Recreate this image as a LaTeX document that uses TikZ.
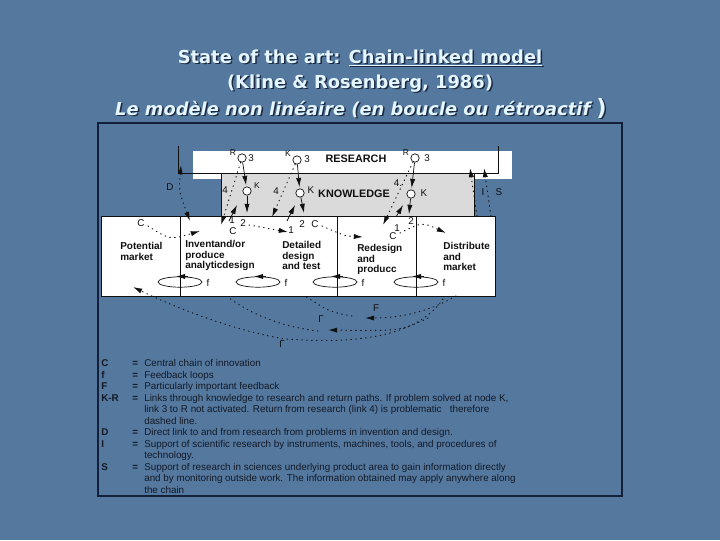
\documentclass[tikz,border=0pt]{standalone}
\usepackage{fontspec}
\setmainfont{Liberation Sans}
\newfontfamily\headfont{DejaVu Sans}
\usetikzlibrary{arrows.meta,shapes.geometric}
\definecolor{slide}{HTML}{55789F}
\definecolor{chalk}{HTML}{E4F6FF}
\definecolor{shade}{HTML}{1C2940}
\definecolor{rim}{HTML}{14203A}
\definecolor{knowfill}{HTML}{DADADA}
\definecolor{ink}{HTML}{101010}
\definecolor{legendink}{HTML}{121A26}

\begin{document}
\begin{tikzpicture}[x=.025cm,y=-.025cm,
 head/.style={font=\headfont\bfseries\fontsize{12.7}{14}\selectfont,text=chalk,inner sep=0pt,anchor=base},
 headshade/.style={head,text=shade},
 stage/.style={font=\bfseries\fontsize{7.1}{7.5}\selectfont,align=left,anchor=north west,inner sep=0pt,text=ink},
 band/.style={font=\bfseries\fontsize{7.7}{8}\selectfont,inner sep=0pt,text=ink},
 tag/.style={font=\fontsize{7}{7}\selectfont,inner sep=0pt,text=ink},
 tiny/.style={font=\fontsize{6}{6}\selectfont,inner sep=0pt,text=ink},
 hub/.style={circle,draw=ink,fill=white,line width=.5pt,minimum size=2.1mm,inner sep=0pt},
 link/.style={-{Latex[length=2.3mm,width=1.3mm]},ink,line width=.5pt},
 dots/.style={ink,line width=.7pt,dash pattern=on .5pt off 3pt,line cap=round},
 dotlink/.style={dots,-{Latex[length=2.3mm,width=1.3mm]}},
 ring/.style={ellipse,draw=ink,line width=.5pt,minimum width=1.1cm,minimum height=.26cm,inner sep=0pt},
 key/.style={font=\bfseries\fontsize{7}{7}\selectfont,text=legendink,inner sep=0pt,anchor=base west},
 gloss/.style={font=\fontsize{7}{7}\selectfont,text=legendink,inner sep=0pt,anchor=base west}]
 \fill[slide] (0,0) rectangle (720,540);
 \useasboundingbox (0,0) rectangle (720,540);
 % title
 \node[headshade] (t1s) at (361.5,64.5) {State of the art: \underline{Chain-linked model}};
 \node[head] (t1) at (360,63) {State of the art: \underline{Chain-linked model}};
 \node[headshade] (t2s) at (361.5,89.5) {(Kline \& Rosenberg, 1986)};
 \node[head] (t2) at (360,88) {(Kline \& Rosenberg, 1986)};
 \node[headshade] (t3s) at (362.5,116.5) {\itshape Le modèle non linéaire (en boucle ou rétroactif {\upshape\fontsize{16}{16}\selectfont)}};
 \node[head] (t3) at (361,115) {\itshape Le modèle non linéaire (en boucle ou rétroactif {\upshape\fontsize{16}{16}\selectfont)}};
 % boxes
 \fill[white] (193,151) rectangle (512,179);
 \filldraw[fill=knowfill,draw=ink,line width=.6pt] (221,216) -- (221,173) -- (474,173) -- (474,216);
 \draw[ink,line width=.6pt] (178,146) -- (178,173) -- (498,173) -- (498,146);
 \filldraw[fill=white,draw=ink,line width=.6pt] (101,216) rectangle (495,296);
 \foreach \x in {180,337,416} \draw[ink,line width=.5pt] (\x,216) -- (\x,296);
 \draw[rim,line width=1pt] (98,123) rectangle (622,496);
 % research row
 \node[tiny] (lr1) at (233,153) {R}; \node[hub] (r1) at (242,158) {}; \node[tag] (n31) at (251,158) {3};
 \node[tiny] (lr2) at (288,154) {K}; \node[hub] (r2) at (297,160) {}; \node[tag] (n32) at (307,159) {3};
 \node[band] (research) at (356,159) {RESEARCH};
 \node[tiny] (lr3) at (406,153) {R}; \node[hub] (r3) at (415,158) {}; \node[tag] (n33) at (427,158) {3};
 % knowledge row
 \node[tag] (n41) at (225,190) {4}; \node[hub] (k1) at (247,191) {}; \node[tiny] (lk1) at (257,186) {K};
 \node[tag] (n42) at (276,191) {4}; \node[hub] (k2) at (300,193) {}; \node[tag] (lk2) at (311,190) {K};
 \node[band] (knowledge) at (354,194) {KNOWLEDGE};
 \node[tag] (n43) at (398,183) {4.}; \node[hub] (k3) at (411,194) {}; \node[tag] (lk3) at (424,193) {K};
 % K-R links
 \coordinate (c1) at (247,213); \coordinate (u1) at (229,221); \coordinate (v1) at (237,205); \coordinate (w1) at (221,225);
 \coordinate (c2) at (304,213); \coordinate (u2) at (287,221); \coordinate (v2) at (295,205); \coordinate (w2) at (272,217);
 \coordinate (c3) at (409,214); \coordinate (u3) at (396,217); \coordinate (v3) at (403,205); \coordinate (w3) at (383,225);
 \foreach \i in {1,2,3} {
  \draw[link,shorten >=1pt] (r\i) -- (k\i); \draw[link] (k\i) -- (c\i); \draw[link] (u\i) -- (v\i);
  \draw[dotlink] (r\i) -- (w\i);
 }
 % D, I and S
 \coordinate (dtop) at (181,165); \coordinate (dbot) at (190,221);
 \draw[dots,{Latex[length=2.3mm,width=1.3mm]}-{Latex[length=2.3mm,width=1.3mm]}] (dtop) .. controls (179,192) .. (dbot);
 \node[tag] (ld) at (170,187) {D};
 \coordinate (ibot) at (477,216); \coordinate (itop) at (470,168);
 \coordinate (sbot) at (491,216); \coordinate (stop) at (484,168);
 \draw[dotlink] (ibot) -- (itop); \draw[dotlink] (sbot) -- (stop);
 \node[tag] (li) at (483,192) {I}; \node[tag] (ls) at (499,192) {S};
 % central chain
 \node[tag] (lc0) at (141,223) {C};
 \node[tag] (la1) at (232,220) {1}; \node[tag] (lb1) at (243,223) {2}; \node[tag] (lc1) at (233,231) {C};
 \node[tag] (la2) at (291,230) {1}; \node[tag] (lb2) at (302,224) {2}; \node[tag] (lc2) at (315,224) {C};
 \node[tag] (la3) at (397,228) {1}; \node[tag] (lb3) at (411,221) {2}; \node[tag] (lc3) at (393,236) {C};
 \coordinate (ca) at (148,226); \coordinate (cb) at (200,231);
 \coordinate (cc) at (249,225); \coordinate (cd) at (288,232);
 \coordinate (ce) at (322,226); \coordinate (cf) at (363,237);
 \coordinate (cg) at (400,233); \coordinate (ch) at (446,233);
 \draw[dotlink] (ca) .. controls (170,240) .. (cb);
 \draw[dotlink] (cc) -- (cd);
 \draw[dotlink] (ce) .. controls (345,236) .. (cf);
 \draw[dotlink] (cg) .. controls (422,222) .. (ch);
 % stages
 \node[stage] (market) at (120,242) {Potential\\market};
 \node[stage] (invent) at (185,240) {Inventand/or\\produce\\analyticdesign};
 \node[stage] (detail) at (282,241) {Detailed\\design\\and test};
 \node[stage] (redesign) at (357,244) {Redesign\\and\\producc};
 \node[stage] (distrib) at (443,242) {Distribute\\and\\market};
 % feedback loops f
 \foreach \i/\x in {1/180,2/258,3/335,4/416} {
  \node[ring] (e\i) at (\x,282) {};
  \draw[link] ([xshift=2mm]e\i.north) -- ([xshift=-1mm]e\i.north);
  \node[tag] (f\i) at (\x+28,283) {f};
 }
 % feedback F
 \coordinate (fa) at (443,299); \coordinate (fb) at (285,339); \coordinate (fc) at (133,287);
 \draw[dotlink] (fa) .. controls (412,345) and (330,342) .. (fb) .. controls (230,330) and (170,305) .. (fc);
 \coordinate (ga) at (456,296); \coordinate (gb) at (365,318);
 \draw[dotlink] (ga) .. controls (425,314) and (395,318) .. (gb);
 \coordinate (gc) at (352,316); \coordinate (gd) at (305,296);
 \draw[dots] (gc) .. controls (330,312) .. (gd);
 \coordinate (ha) at (428,318); \coordinate (hb) at (328,330);
 \draw[dotlink] (ha) .. controls (400,331) .. (hb);
 \coordinate (hc) at (318,331); \coordinate (hd) at (228,297);
 \draw[dots] (hc) .. controls (275,326) and (245,310) .. (hd);
 \node[tag] (lf) at (376,308) {F}; \node[tag] (lg1) at (321,319) {Γ}; \node[tag] (lg2) at (282,344) {Γ};
 % legend
 \foreach \k/\i in {C/0,f/1,F/2,K-R/3,D/6,I/7,S/9} {
  \node[key] (key\i) at (101,366.5+11.5*\i) {\k};
  \node[key] (eq\i) at (132,366.5+11.5*\i) {=};
 }
 \foreach \t/\i in {{Central chain of innovation}/0,{Feedback loops}/1,{Particularly important feedback}/2,
  {Links through knowledge to research and return paths. If problem solved at node K,}/3,
  {link 3 to R not activated. Return from research (link 4) is problematic \ \ therefore}/4,
  {dashed line.}/5,{Direct link to and from research from problems in invention and design.}/6,
  {Support of scientific research by instruments, machines, tools, and procedures of}/7,
  {technology.}/8,{Support of research in sciences underlying product area to gain information directly}/9,
  {and by monitoring outside work. The information obtained may apply anywhere along}/10,{the chain}/11}
  \node[gloss] (gl\i) at (144,366.5+11.5*\i) {\t};
\end{tikzpicture}
\end{document}
